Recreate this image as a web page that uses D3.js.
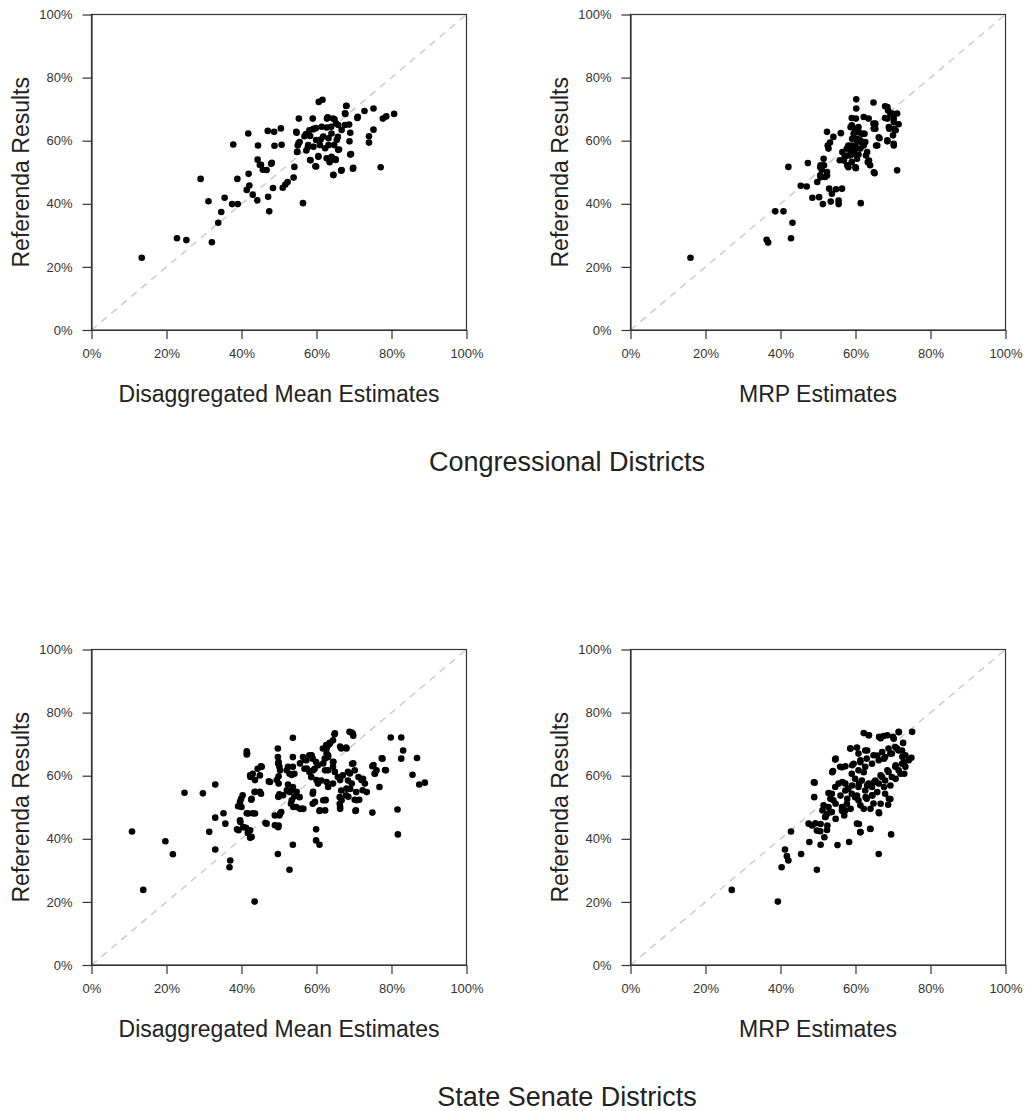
<!DOCTYPE html>
<html><head><meta charset="utf-8">
<script src="https://cdn.jsdelivr.net/npm/d3@7"></script>
<style>body{margin:0;background:#fff}text{font-family:"Liberation Sans",Arial,Helvetica,sans-serif}</style>
</head><body>
<svg id="c" width="1028" height="1111"></svg>
<script>
const tickValues=[0,20,40,60,80,100];
const tickLabels=["0%","20%","40%","60%","80%","100%"];
const xTitles=["Disaggregated Mean Estimates","MRP Estimates"];
const yTitle="Referenda Results";
const sectionTitles=["Congressional Districts","State Senate Districts"];

// Congressional districts, disaggregated mean estimate vs referenda result (%)
const cdDisagg=[[13.4,22.9],[22.8,29.1],[25.3,28.5],[32.1,27.8],[33.8,34.0],[34.6,37.4],[31.2,40.8],[35.5,41.9],[37.5,39.9],[39.0,39.9],[29.1,47.9],[37.8,58.8],[38.9,47.9],
[41.8,62.3],[44.4,58.5],[47.0,63.1],[48.7,62.8],[50.5,63.9],[48.8,58.4],[50.7,58.7],
[41.9,49.5],[44.3,54.0],[45.2,52.4],[45.7,50.8],[46.7,50.7],[47.9,52.7],[48.1,53.0],[44.9,52.3],
[42.1,45.8],[41.4,44.4],[43.0,42.9],[44.2,41.1],[47.1,42.2],[47.4,37.6],[48.4,45.0],[51.0,45.1],[51.7,46.1],[52.3,46.9],[53.9,48.3],[54.1,51.7],[56.4,40.2],
[55.3,67.0],[54.6,62.8],[55.0,58.5],[54.8,56.4],[55.5,59.6],[56.8,61.4],[58.1,63.3],[59.0,67.0],[59.2,63.8],[59.9,64.0],[57.7,58.0],[57.3,56.9],[58.4,53.8],[59.7,51.9],[60.5,55.1],
[60.6,72.3],[61.6,73.0],[62.8,67.0],[64.4,67.0],[67.9,71.0],[67.7,68.5],[68.7,65.1],[69.0,62.5],[68.8,59.8],
[65.7,61.2],[66.0,57.2],[64.4,54.3],[63.5,53.2],[65.1,54.1],[64.5,49.2],[66.6,50.5],[69.0,55.6],[69.7,51.1],
[70.9,67.2],[72.8,69.4],[75.2,70.2],[74.0,61.4],[74.0,59.4],[75.2,63.5],[77.1,51.6],[77.7,67.0],[78.6,67.7],[80.7,68.5],
[63.0,67.4],[64.8,66.8],[65.2,65.5],[59.2,63.6],[61.4,64.4],[62.7,64.2],[63.9,64.4],[65.8,65.0],[66.7,63.4],[67.6,65.0],[54.7,62.5],[57.2,62.1],[58.3,61.5],[59.9,60.2],[61.1,60.4],[61.8,61.3],[63.2,60.8],[64.0,62.3],[65.4,60.2],[64.7,58.6],[63.2,58.6],[62.3,57.6],[60.9,58.6],[59.2,58.1],[57.8,58.6],[55.2,59.2],[54.9,56.5],[58.3,53.9],[60.5,54.9],[59.9,51.8],[62.7,54.4],[64.0,54.9],[65.1,53.9],[65.8,57.1],[69.2,55.8],[66.7,50.7],[64.5,49.1],[69.8,51.4],
[68.0,71.1],[67.6,68.7],[71.0,67.6]];

// Congressional districts, MRP estimate vs referenda result (%)
const cdMrp=[[16.0,22.9],[36.3,28.6],[36.7,27.7],[42.8,29.1],[43.2,34.0],[38.6,37.6],[40.8,37.6],[42.1,51.7],[47.3,52.9],[45.4,45.7],[47.0,45.5],[48.5,41.9],[50.3,42.1],[51.3,39.9],
[53.0,44.8],[53.7,43.2],[53.4,40.7],[55.5,39.9],[55.5,41.0],[56.4,44.8],[54.8,44.6],[61.4,40.2],
[49.8,46.9],[50.6,49.0],[51.0,50.8],[51.6,52.2],[51.5,54.3],[52.4,50.1],[51.9,48.5],[50.6,51.6],[52.4,49.0],[50.7,48.4],[50.7,52.2],
[52.4,62.8],[52.6,58.5],[53.2,59.4],[54.1,61.2],[52.8,57.5],[56.1,62.4],
[55.8,53.8],[56.5,56.4],[57.1,54.8],[58.1,51.6],[58.6,55.3],[59.0,53.2],[59.5,56.4],[60.1,51.3],[57.7,57.5],[58.1,58.5],
[60.2,73.1],[60.2,70.2],[64.8,72.1],
[59.0,67.2],[60.1,67.0],[62.2,67.5],[63.5,67.0],[64.8,65.4],[65.3,63.8],
[59.0,64.9],[59.9,63.3],[60.8,64.3],[59.5,62.2],[60.4,60.6],[61.3,60.1],[62.4,62.2],[62.6,59.6],[62.2,58.5],[61.3,57.5],[60.1,57.5],[59.0,58.5],[60.8,55.6],[62.8,55.3],[63.3,53.2],[63.9,52.2],[65.1,49.7],[61.7,62.2],
[66.4,60.8],[65.5,58.5],
[67.9,70.9],[68.7,69.6],[67.9,67.2],[69.3,68.6],[71.1,68.6],[70.2,67.0],[71.5,65.2],[70.2,63.8],[69.0,63.8],[70.0,61.7],[68.5,59.8],[70.2,58.5],[71.1,50.6],
[58.7,64.3],[60.0,63.8],[60.9,62.7],[62.2,62.2],[59.1,60.6],[60.4,60.1],[61.5,59.6],[60.0,58.5],[58.7,56.9],[57.8,55.3],[59.5,55.9],[60.4,54.3],[56.9,53.7],[57.8,52.2],[60.0,51.6],[63.1,56.4],[63.6,53.7],[64.9,50.0],
[68.5,70.7],[69.8,68.6],[68.5,67.0],[70.2,65.9],[68.9,64.3],[70.7,63.3],[68.5,60.1],[70.2,59.0],[65.8,58.5],[66.2,61.1],[64.9,63.8],[65.3,65.4]];

// State senate districts, disaggregated mean estimate vs referenda result (%)
const ssDisagg=[[10.8,42.3],[13.8,23.8],[19.7,39.2],[21.7,35.1],[24.8,54.6],[29.7,54.4],[33.0,57.2],[31.4,42.2],[33.0,46.7],[35.2,48.1],[35.7,44.8],[33.0,36.6],[37.0,33.1],[36.8,31.0],
[38.8,43.0],[39.7,45.3],[41.2,43.5],[41.7,41.8],[42.3,40.3],[39.1,50.3],[39.9,52.7],[40.3,53.8],[41.4,48.1],[43.0,48.1],[42.6,52.4],[43.5,54.8],[45.2,54.3],
[42.4,59.6],[43.0,60.6],[44.3,62.2],[45.2,63.0],[41.4,67.7],[41.4,66.7],[43.5,20.1],[46.4,45.0],[47.3,58.2],[49.7,35.2],[49.9,44.2],[50.1,47.4],[50.6,48.5],
[49.9,53.4],[50.1,54.1],[49.9,59.8],[49.9,57.5],[49.7,68.6],[49.7,65.9],[49.9,64.3],[50.1,62.8],[52.8,30.2],[53.7,38.1],[53.7,72.0],
[52.4,62.8],[53.7,62.8],[52.8,60.6],[54.1,60.6],[53.7,65.9],[52.4,57.2],[53.7,56.4],[52.8,54.8],[54.1,53.4],[53.2,51.1],[54.6,50.1],[56.2,49.5],[55.5,53.2],
[56.4,65.9],[57.3,64.9],[58.1,66.5],[59.0,65.4],[59.9,64.3],[56.8,62.2],[58.1,61.2],[59.5,62.2],[60.4,63.3],[58.6,59.6],
[59.0,54.3],[59.0,51.1],[60.8,48.8],[59.9,43.0],[59.9,39.5],[60.8,38.1],[60.4,57.5],[61.3,58.5],
[61.7,68.6],[62.6,69.7],[63.5,70.4],[64.4,71.2],[64.8,73.1],[62.2,65.4],[63.1,66.5],[64.4,64.3],[63.1,61.7],[64.4,62.8],[62.4,52.4],
[63.1,56.4],[64.4,57.5],[65.7,59.6],[67.0,60.1],[68.4,61.2],[66.6,68.6],[67.9,68.9],[66.6,55.3],[66.2,53.2],[66.2,51.1],[66.3,49.5],
[68.8,73.9],[69.7,73.3],[69.5,63.8],[70.2,61.7],[68.4,58.5],[69.0,55.8],[67.9,53.8],[70.6,54.8],[70.2,52.4],[71.4,52.4],[70.4,48.8],
[72.4,59.0],[72.9,57.5],[73.4,54.8],[74.9,63.0],[75.5,60.6],[76.0,61.7],[76.8,56.4],[74.9,48.3],[77.6,65.4],[78.5,61.7],
[79.8,72.1],[82.6,72.1],[83.1,68.0],[82.6,65.4],[81.6,49.3],[81.7,41.4],[85.6,60.3],[86.8,65.6],[87.4,57.2],[88.9,57.8],
[49.8,63.9],[50.3,61.7],[52.1,61.7],[53.4,60.2],[55.6,63.9],[56.9,65.0],[57.4,62.3],[58.7,66.5],[59.1,61.7],[60.0,58.6],[61.8,63.9],[62.3,61.7],[62.7,68.6],[63.1,65.9],[63.6,70.2],
[49.4,58.6],[47.6,58.0],[49.8,53.3],[51.1,53.8],[52.1,55.4],[53.4,55.4],[54.7,54.9],[53.4,52.2],[53.8,50.1],[55.6,49.5],[56.5,49.5],[59.1,54.9],[59.6,51.7],[60.9,49.0],[62.4,52.2],
[48.9,47.4],[50.3,48.0],[49.8,43.7],[48.9,44.3],[46.7,44.8],[41.5,67.0],[42.3,60.1],[43.6,58.6],[45.4,62.8],[44.9,60.1],[42.7,52.7],[43.6,54.9],[44.9,54.9],
[39.6,51.7],[40.0,50.1],[41.8,48.0],[43.6,48.0],[42.3,42.7],[42.7,40.6],[39.6,45.9],[40.5,43.7],[39.2,42.7],
[64.9,73.4],[69.4,73.7],[69.8,72.7],[77.4,65.5],[75.2,63.4],[78.3,61.8],[75.6,60.7],[70.5,49.0],[66.3,50.1],[66.7,52.2],[70.7,52.2],[72.3,55.4],[72.0,58.6],[69.4,57.5],[69.8,63.9],[68.0,68.6],[66.3,69.2],[62.7,67.0],[63.2,69.7],[64.5,64.4],[64.9,61.2],[62.7,58.0],[66.3,58.6],[68.9,60.7],[71.2,59.6],[68.0,55.9],[68.5,53.3],[61.8,52.2],[62.3,49.0]];

// State senate districts, MRP estimate vs referenda result (%)
const ssMrp=[[27.0,23.8],[39.3,20.1],[40.3,31.0],[41.2,36.6],[41.7,34.5],[42.1,33.1],[42.8,42.3],[45.5,35.2],[47.7,39.0],[49.7,30.2],[50.7,38.1],[55.2,38.0],[58.3,39.0],[66.2,35.2],[69.5,41.4],
[47.5,44.8],[48.4,44.2],[49.3,44.9],[49.7,42.6],[50.6,42.4],[51.7,40.5],[52.4,42.8],[60.4,44.8],[61.3,42.1],[63.9,43.2],
[49.1,57.8],[49.0,53.2],[51.2,49.0],[51.9,46.9],[52.4,47.9],[53.7,48.5],[52.8,50.1],[51.5,50.6],[54.1,52.2],[53.7,54.3],[52.8,54.5],
[54.6,65.1],[54.0,61.5],[55.9,62.8],[57.3,63.0],[54.6,56.4],[55.5,57.5],[56.5,58.0],[57.3,57.5],[58.1,55.9],[56.4,50.1],[57.3,49.0],[56.5,48.8],[57.7,51.1],
[58.6,68.6],[60.4,68.9],[60.8,67.0],[62.6,68.0],[62.2,73.5],[63.5,72.8],[66.3,72.3],[67.5,72.6],[70.0,72.3],[71.5,73.9],[72.7,70.4],[75.1,73.9],
[59.0,54.3],[59.9,53.2],[60.8,52.2],[62.2,49.5],[63.0,52.7],[64.4,53.8],[64.8,51.2],[66.3,48.1],[67.9,54.3],[69.3,52.6],[68.7,50.8],
[74.9,65.7],[73.0,60.6],[59.0,60.6],[60.8,61.7],[62.6,62.8],[64.4,63.8],[66.2,64.9],[67.9,65.9],[69.7,67.0],[71.5,68.0],[73.3,66.5],[74.2,64.9],[72.4,63.8],[70.6,62.8],[68.8,61.2],[67.1,59.6],[65.3,58.5],[63.5,57.5],[61.7,58.5],[59.9,59.0],[60.8,56.4],[62.6,55.3],[64.4,56.4],[66.2,57.5],[67.9,58.5],[69.7,59.6],[71.5,61.7],[73.3,62.8],[72.4,68.0],[70.6,69.1],[68.8,68.6],[67.1,67.5],[64.8,66.5],[63.0,65.4],[61.3,64.9],[59.5,63.8],
[63.6,72.8],[66.7,71.9],[68.5,72.8],[70.2,71.7],[71.6,73.8],
[58.7,68.6],[54.7,65.4],[56.4,62.7],[59.1,63.3],[53.8,61.1],[63.1,68.0],[61.3,64.3],[62.2,61.1],[65.8,66.4],[67.6,65.4],[69.3,67.0],[71.1,68.6],[72.5,66.0],[72.9,64.3],[70.7,63.3],[68.5,61.7],[66.7,60.1],[64.9,57.9],[63.1,56.9],[60.9,57.4],[59.1,56.9],[57.3,55.3],[56.0,53.7],[53.3,52.7],[54.7,51.1],[57.8,52.7],[60.4,53.7],[62.7,53.2],[64.5,53.7],[65.8,54.8],[67.6,56.4],[69.3,56.9],[70.7,59.0],[72.0,60.6],[68.9,52.7],[66.7,51.1],[64.0,49.5],[61.3,50.6],[58.7,49.5],[56.4,49.0],[53.3,48.4],[52.0,46.9],[50.7,44.7],[52.5,44.2],[54.7,46.3],[57.0,47.4],[48.9,57.9],[60.9,44.7],[61.3,42.1],[64.0,43.1],[66.2,48.4]];

const panels=[
  {data:cdDisagg,col:0,row:0},
  {data:cdMrp,col:1,row:0},
  {data:ssDisagg,col:0,row:1},
  {data:ssMrp,col:1,row:1}
];

const svg=d3.select("#c");
const W=375,H=315.5;
const colX=[91.5,630.5], rowY=[14.5,649.5];
const x=d3.scaleLinear().domain([0,100]).range([0,W]);
const y=d3.scaleLinear().domain([0,100]).range([H,0]);

panels.forEach(p=>{
  const g=svg.append("g").attr("transform",`translate(${colX[p.col]},${rowY[p.row]})`);
  g.append("line").attr("x1",x(0)).attr("y1",y(0)).attr("x2",x(100)).attr("y2",y(100))
    .attr("stroke","#c8c8c8").attr("stroke-width",1.4).attr("stroke-dasharray","7,6");
  g.append("g").selectAll("circle").data(p.data).join("circle")
    .attr("cx",d=>x(d[0])).attr("cy",d=>y(d[1])).attr("r",3.3).attr("fill","#000");
  const xa=g.append("g").attr("transform",`translate(0,${H})`)
    .call(d3.axisBottom(x).tickValues(tickValues).tickFormat((d,i)=>tickLabels[i]).tickSize(9).tickSizeOuter(0).tickPadding(10));
  const ya=g.append("g")
    .call(d3.axisLeft(y).tickValues(tickValues).tickFormat((d,i)=>tickLabels[i]).tickSize(9).tickSizeOuter(0).tickPadding(10));
  [xa,ya].forEach(a=>{
    a.selectAll("path").attr("stroke","#333").attr("stroke-width",1.2);
    a.selectAll("line").attr("stroke","#333").attr("stroke-width",1.2);
    a.selectAll("text").attr("font-size",13).attr("fill","#333")
     .attr("font-family","'Liberation Sans',Arial,Helvetica,sans-serif");
  });
  g.append("rect").attr("width",W).attr("height",H).attr("fill","none")
    .attr("stroke","#333").attr("stroke-width",1.2);
  g.append("text").attr("x",W/2).attr("y",H+72).attr("text-anchor","middle")
    .attr("font-size",23).attr("fill","#222").text(xTitles[p.col]);
  g.append("text").attr("transform",`translate(-62.5,${H/2}) rotate(-90)`).attr("text-anchor","middle")
    .attr("font-size",23).attr("fill","#222").text(yTitle);
});

sectionTitles.forEach((t,i)=>{
  svg.append("text").attr("x",567).attr("y",rowY[i]+456).attr("text-anchor","middle")
    .attr("font-size",27).attr("fill","#222").text(t);
});
</script>
</body></html>
